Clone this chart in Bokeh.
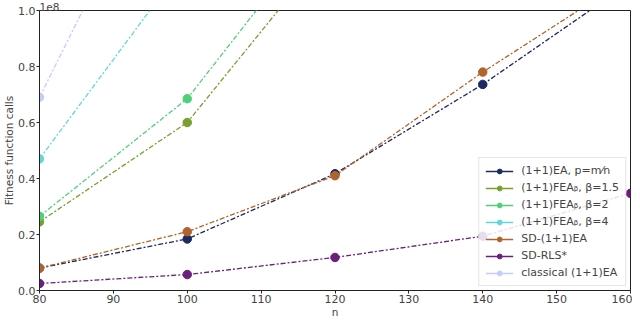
from bokeh.plotting import figure
from bokeh.embed import file_html
from bokeh.resources import INLINE
from bokeh.models import Legend, LegendItem, CustomJSTickFormatter, FixedTicker, Range1d, Title

# ---- data (n vs fitness function calls) ----
n = [80, 100, 120, 140, 160]
ea_mn = [0.080e8, 0.184e8, 0.417e8, 0.736e8, 1.10e8]
fea_15 = [0.245e8, 0.600e8, 1.25e8]
fea_2 = [0.265e8, 0.685e8, 1.36e8]
fea_4 = [0.470e8, 1.18e8]
sd_ea = [0.080e8, 0.210e8, 0.410e8, 0.780e8, 1.12e8]
sd_rls = [0.025e8, 0.057e8, 0.118e8, 0.194e8, 0.347e8]
classical = [0.690e8, 1.75e8]

labels = ["(1+1)EA, p=m\u2044n", "(1+1)FEA\u1D66, \u03B2=1.5", "(1+1)FEA\u1D66, \u03B2=2",
          "(1+1)FEA\u1D66, \u03B2=4", "SD-(1+1)EA", "SD-RLS*", "classical (1+1)EA"]
series = [ea_mn, fea_15, fea_2, fea_4, sd_ea, sd_rls, classical]
colors = ["#1c2a62", "#78a02e", "#50cf7a", "#62d6d8", "#b0642c", "#6b1f7c", "#c3cdf7"]

FONT = "DejaVu Sans"

p = figure(width=632, height=320, output_backend="svg", toolbar_location=None,
           x_range=Range1d(80, 160), y_range=Range1d(0, 1e8),
           min_border=0, min_border_left=38, min_border_right=2, min_border_top=0,
           min_border_bottom=0)
p.grid.visible = False
p.outline_line_color = "#222222"
p.outline_line_width = 1
p.background_fill_color = "white"

p.title = Title(text="1e8", align="left", text_align="left", text_font=FONT,
                text_font_size="10.5px", text_font_style="normal", standoff=0, offset=0,
                text_line_height=1.0)

for ax in (p.xaxis[0], p.yaxis[0]):
    ax.major_label_text_font = FONT
    ax.major_label_text_font_size = "11px"
    ax.axis_label_text_font = FONT
    ax.axis_label_text_font_size = "10.5px"
    ax.axis_label_text_font_style = "normal"
    ax.minor_tick_line_color = None
    ax.major_tick_out = 3
    ax.major_tick_in = 0
    ax.major_label_standoff = 1
    ax.axis_label_standoff = 0
    ax.axis_line_color = "#222222"
    ax.major_tick_line_color = "#222222"

p.xaxis.axis_label = "n"
p.yaxis.axis_label = "Fitness function calls"
p.xaxis.ticker = FixedTicker(ticks=[80, 90, 100, 110, 120, 130, 140, 150, 160])
p.yaxis.ticker = FixedTicker(ticks=[0, 0.2e8, 0.4e8, 0.6e8, 0.8e8, 1.0e8])
p.yaxis.formatter = CustomJSTickFormatter(code="return (tick/1e8).toFixed(1);")

nan = float("nan")
items = []
for lab, ys, c in zip(labels, series, colors):
    xs = n[:len(ys)]
    p.line(xs, ys, line_color=c, line_width=1.3, line_dash="5 2 2 2")
    p.scatter(xs, ys, size=8.5, fill_color=c, line_color=c)
    # legend proxies: solid line + marker, no visible data
    lp = p.line([nan], [nan], line_color=c, line_width=1.5)
    sp = p.scatter([nan], [nan], size=8.5, fill_color=c, line_color=c)
    items.append(LegendItem(label=lab, renderers=[lp, sp]))

legend = Legend(items=items, location="bottom_right")
legend.label_text_font = FONT
legend.label_text_font_size = "11px"
legend.label_height = 12
legend.glyph_height = 12
legend.glyph_width = 28
legend.spacing = 4
legend.padding = 6
legend.margin = 4
legend.label_standoff = 8
legend.border_line_color = "#cccccc"
legend.background_fill_alpha = 0.85
p.add_layout(legend)

open("out.html", "w").write(file_html(p, INLINE))
